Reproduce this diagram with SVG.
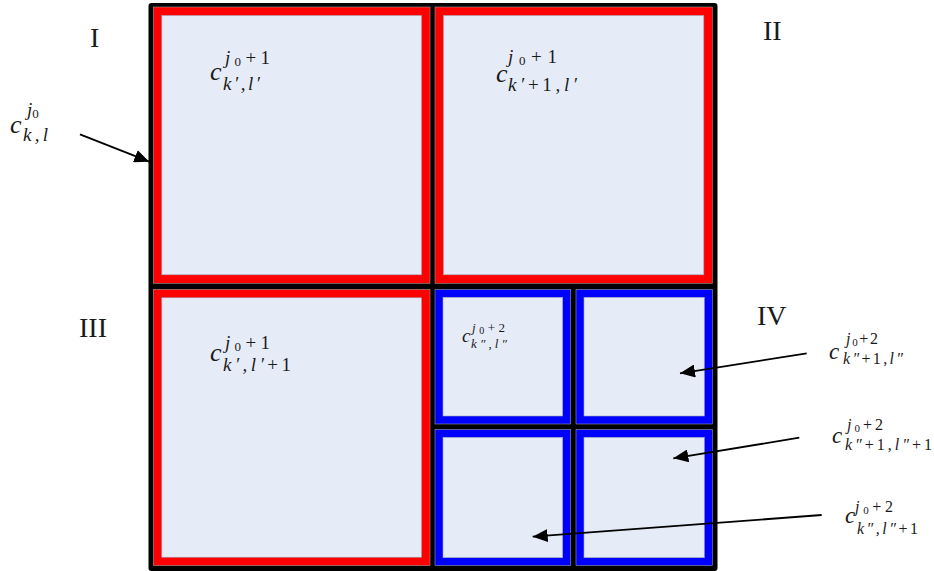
<svg xmlns="http://www.w3.org/2000/svg" width="934" height="571" viewBox="0 0 934 571">
  <style>
    .frame { fill: #000000; }
    .red { fill: #FF0000; stroke: #9a9a9a; stroke-width: 0.6; }
    .blue { fill: #0000FF; stroke: #9a9a9a; stroke-width: 0.6; }
    .cell { fill: #E6ECF7; stroke: #a0a4b8; stroke-width: 0.6; }
    .conn { stroke: #000; stroke-width: 1.8; fill: none; marker-end: url(#ah); }
    text { font-family: "Liberation Serif", "DejaVu Serif", serif; fill: #1a1a1a; }
    .roman { font-size: 28px; }
    .m { font-style: italic; }
    .up { font-style: normal; }
  </style>
  <defs>
    <marker id="ah" markerUnits="userSpaceOnUse" markerWidth="16" markerHeight="13" refX="15" refY="6.5" orient="auto">
      <path d="M0,0 L15,6.5 L0,13 z" fill="#000"/>
    </marker>
  </defs>

  <g id="frame">
    <rect class="frame" x="148.5" y="3" width="569" height="568" rx="3"/>
  </g>

  <g id="quadrant-I">
    <rect class="red" x="153.3" y="7" width="276.7" height="276.3"/>
    <rect class="cell" x="161.8" y="15.5" width="259.7" height="259.3"/>
  </g>
  <g id="quadrant-II">
    <rect class="red" x="435" y="7" width="277.3" height="276.3"/>
    <rect class="cell" x="443.5" y="15.5" width="260.3" height="259.3"/>
  </g>
  <g id="quadrant-III">
    <rect class="red" x="153.3" y="289.3" width="276.7" height="276.4"/>
    <rect class="cell" x="161.8" y="297.8" width="259.7" height="259.4"/>
  </g>
  <g id="cell-IV-tl">
    <rect class="blue" x="435" y="289.3" width="135.7" height="134.7"/>
    <rect class="cell" x="443" y="297.3" width="119.7" height="118.7"/>
  </g>
  <g id="cell-IV-tr">
    <rect class="blue" x="576" y="289.3" width="136.3" height="134.7"/>
    <rect class="cell" x="584" y="297.3" width="120.3" height="118.7"/>
  </g>
  <g id="cell-IV-bl">
    <rect class="blue" x="435" y="429.3" width="135.7" height="136.4"/>
    <rect class="cell" x="443" y="437.3" width="119.7" height="120.4"/>
  </g>
  <g id="cell-IV-br">
    <rect class="blue" x="576" y="429.3" width="136.3" height="136.4"/>
    <rect class="cell" x="584" y="437.3" width="120.3" height="120.4"/>
  </g>

  <g id="roman-labels">
    <text class="roman" x="90" y="47">I</text>
    <text class="roman" x="763" y="40">II</text>
    <text class="roman" x="79" y="337">III</text>
    <text class="roman" x="757" y="325">IV</text>
  </g>

  <g id="label-ckl">
    <text class="m" x="10" y="133" font-size="26">c</text>
    <text class="m" x="27" y="116" font-size="19">j<tspan class="up" font-size="13" dy="2">0</tspan></text>
    <text class="m" x="23" y="141" font-size="19" textLength="25" lengthAdjust="spacing">k,l</text>
  </g>

  <g id="label-q1">
    <text class="m" x="210" y="80" font-size="26">c</text>
    <text class="m" x="225" y="64" font-size="19" textLength="45" lengthAdjust="spacing">j<tspan class="up" font-size="13" dy="2">0</tspan><tspan class="up" dy="-2">+1</tspan></text>
    <text class="m" x="223" y="90" font-size="19" textLength="37" lengthAdjust="spacing">k′,l′</text>
  </g>

  <g id="label-q2">
    <text class="m" x="496" y="82" font-size="26">c</text>
    <text class="m" x="508" y="63" font-size="19" textLength="49" lengthAdjust="spacing">j<tspan class="up" font-size="13" dy="2">0</tspan><tspan class="up" dy="-2">+1</tspan></text>
    <text class="m" x="508" y="91" font-size="19" textLength="69" lengthAdjust="spacing">k′<tspan class="up">+1,</tspan>l′</text>
  </g>

  <g id="label-q3">
    <text class="m" x="210" y="361" font-size="26">c</text>
    <text class="m" x="225" y="349" font-size="19" textLength="45" lengthAdjust="spacing">j<tspan class="up" font-size="13" dy="2">0</tspan><tspan class="up" dy="-2">+1</tspan></text>
    <text class="m" x="223" y="371" font-size="19" textLength="68" lengthAdjust="spacing">k′,l′<tspan class="up">+1</tspan></text>
  </g>

  <g id="label-q4-tl">
    <text class="m" x="462" y="341.5" font-size="19">c</text>
    <text class="m" x="472" y="332" font-size="13" textLength="33" lengthAdjust="spacing">j<tspan class="up" font-size="10" dy="1.5">0</tspan><tspan class="up" dy="-1.5">+2</tspan></text>
    <text class="m" x="471" y="348" font-size="13" textLength="36" lengthAdjust="spacing">k″,l″</text>
  </g>

  <g id="label-q4-tr">
    <text class="m" x="829" y="359" font-size="23">c</text>
    <text class="m" x="846" y="344" font-size="16" textLength="32" lengthAdjust="spacing">j<tspan class="up" font-size="11" dy="2">0</tspan><tspan class="up" dy="-2">+2</tspan></text>
    <text class="m" x="843" y="364" font-size="16" textLength="60" lengthAdjust="spacing">k″<tspan class="up">+1,</tspan>l″</text>
  </g>

  <g id="label-q4-br">
    <text class="m" x="832" y="443" font-size="23">c</text>
    <text class="m" x="847" y="430" font-size="16" textLength="36" lengthAdjust="spacing">j<tspan class="up" font-size="11" dy="2">0</tspan><tspan class="up" dy="-2">+2</tspan></text>
    <text class="m" x="845" y="450" font-size="16" textLength="87" lengthAdjust="spacing">k″<tspan class="up">+1,</tspan>l″<tspan class="up">+1</tspan></text>
  </g>

  <g id="label-q4-bl">
    <text class="m" x="845" y="523" font-size="23">c</text>
    <text class="m" x="855" y="512" font-size="16" textLength="38" lengthAdjust="spacing">j<tspan class="up" font-size="11" dy="2">0</tspan><tspan class="up" dy="-2">+2</tspan></text>
    <text class="m" x="857" y="534" font-size="16" textLength="61" lengthAdjust="spacing">k″,l″<tspan class="up">+1</tspan></text>
  </g>

  <g id="connectors">
    <line class="conn" x1="80" y1="134.3" x2="149.3" y2="161.7"/>
    <line class="conn" x1="806.7" y1="353.3" x2="680" y2="373.3"/>
    <line class="conn" x1="799.3" y1="437.7" x2="673.3" y2="458.3"/>
    <line class="conn" x1="821.7" y1="515" x2="532.7" y2="536.7"/>
  </g>
</svg>
